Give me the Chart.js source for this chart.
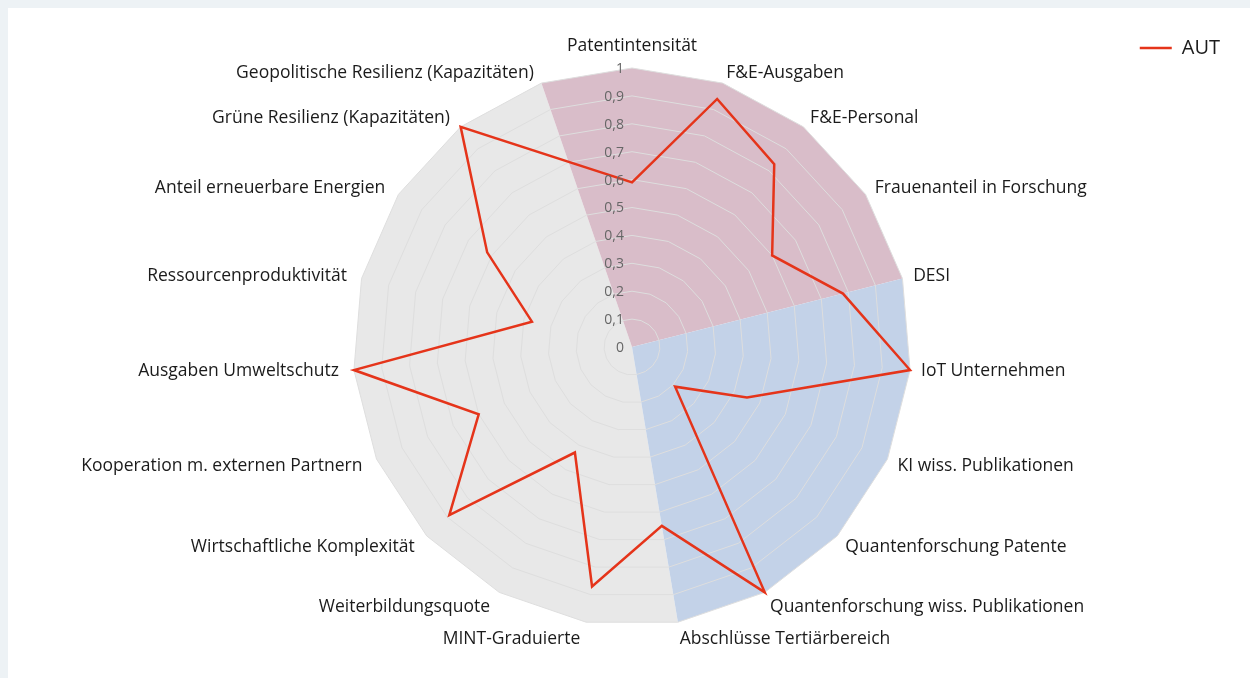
<!DOCTYPE html>
<html lang="de">
<head>
<meta charset="utf-8">
<title>Radar AUT</title>
<script src="https://cdn.jsdelivr.net/npm/chart.js@4.4.1/dist/chart.umd.min.js"></script>
<style>
  html, body { margin: 0; padding: 0; background: #edf2f5; overflow: hidden; }
  #karte { position: absolute; left: 8px; top: 8px; width: 1242px; height: 670px; background: #fff; }
</style>
</head>
<body>
<div id="karte"><canvas id="radar"></canvas></div>
<script>
const kategorien = [
  'Patentintensität',
  'F&E-Ausgaben',
  'F&E-Personal',
  'Frauenanteil in Forschung',
  'DESI',
  'IoT Unternehmen',
  'KI wiss. Publikationen',
  'Quantenforschung Patente',
  'Quantenforschung wiss. Publikationen',
  'Abschlüsse Tertiärbereich',
  'MINT-Graduierte',
  'Weiterbildungsquote',
  'Wirtschaftliche Komplexität',
  'Kooperation m. externen Partnern',
  'Ausgaben Umweltschutz',
  'Ressourcenproduktivität',
  'Anteil erneuerbare Energien',
  'Grüne Resilienz (Kapazitäten)',
  'Geopolitische Resilienz (Kapazitäten)'
];

// Österreich, normierte Werte (0..1); Geopolitische Resilienz ohne Wert
const werteAUT = [0.59, 0.94, 0.83, 0.60, 0.78, 1.0, 0.45, 0.21, 1.0, 0.65, 0.87, 0.43, 0.89, 0.60, 1.0, 0.37, 0.62, 1.0, null];

// Themenbereiche als Kategorie-Indizes (von, bis) im Uhrzeigersinn
const bereiche = [[9, 18], [18, 4], [4, 9]];
const bereichFarben = ['#e8e8e8', '#d9bdc9', '#c3d2e8'];

const skalaMin = 0;
const skalaMax = 1;
const skalaSchritt = 0.1;

const schrift = '"Open Sans", Lato, sans-serif';
const zahlFormat = new Intl.NumberFormat('de-DE', { maximumFractionDigits: 1 });

// Hintergrundsektoren unter dem Gitter, Beschriftungen obendrauf
const radarDeko = {
  id: 'radarDeko',
  beforeDraw(chart) {
    const r = chart.scales.r;
    const ctx = chart.ctx;
    const n = kategorien.length;
    ctx.save();
    bereiche.forEach(([von, bis], k) => {
      ctx.beginPath();
      ctx.moveTo(r.xCenter, r.yCenter);
      let i = von;
      while (true) {
        const p = r.getPointPosition(i, r.drawingArea);
        ctx.lineTo(p.x, p.y);
        if (i === bis) break;
        i = (i + 1) % n;
      }
      ctx.closePath();
      ctx.fillStyle = bereichFarben[k];
      ctx.fill();
    });
    ctx.restore();
  },
  afterDraw(chart) {
    const r = chart.scales.r;
    const ctx = chart.ctx;
    const n = kategorien.length;
    ctx.save();

    ctx.font = '17.5px ' + schrift;
    ctx.fillStyle = '#1b1b1b';
    ctx.textBaseline = 'middle';
    kategorien.forEach((text, i) => {
      const winkel = i * 360 / n;
      const cos = Math.cos(winkel * Math.PI / 180);
      const p = r.getPointPosition(i, r.drawingArea + 11);
      if (winkel === 0) {
        ctx.textAlign = 'center';
        ctx.fillText(text, p.x, p.y - 11);
        return;
      }
      const links = winkel > 180;
      ctx.textAlign = links ? 'right' : 'left';
      ctx.fillText(text, links ? p.x - 4 : p.x, p.y + Math.max(0, -cos) * 6);
    });

    ctx.font = '14px ' + schrift;
    ctx.fillStyle = '#666';
    ctx.textAlign = 'right';
    r.ticks.forEach(t => {
      const d = r.getDistanceFromCenterForValue(t.value);
      ctx.fillText(zahlFormat.format(t.value), r.xCenter - 8, r.yCenter - d + 1);
    });
    ctx.restore();
  }
};

new Chart(document.getElementById('radar'), {
  type: 'radar',
  data: {
    labels: kategorien,
    datasets: [{
      label: 'AUT',
      data: werteAUT,
      borderColor: '#e5341a',
      backgroundColor: '#e5341a',
      borderWidth: 2.5,
      fill: false,
      spanGaps: true,
      pointRadius: 0,
      pointHoverRadius: 3
    }]
  },
  options: {
    responsive: true,
    maintainAspectRatio: false,
    animation: false,
    layout: { padding: { top: 0, right: 0, bottom: 51, left: 6 } },
    scales: {
      r: {
        min: skalaMin,
        max: skalaMax,
        ticks: { display: false, stepSize: skalaSchritt },
        pointLabels: { display: false },
        angleLines: { display: false },
        grid: { color: '#dedede', lineWidth: 1 }
      }
    },
    plugins: {
      legend: {
        position: 'top',
        align: 'end',
        labels: {
          usePointStyle: true,
          pointStyle: 'line',
          pointStyleWidth: 32,
          padding: 30,
          color: '#1b1b1b',
          font: { family: schrift, size: 20 }
        }
      }
    }
  },
  plugins: [radarDeko]
});
</script>
</body>
</html>
